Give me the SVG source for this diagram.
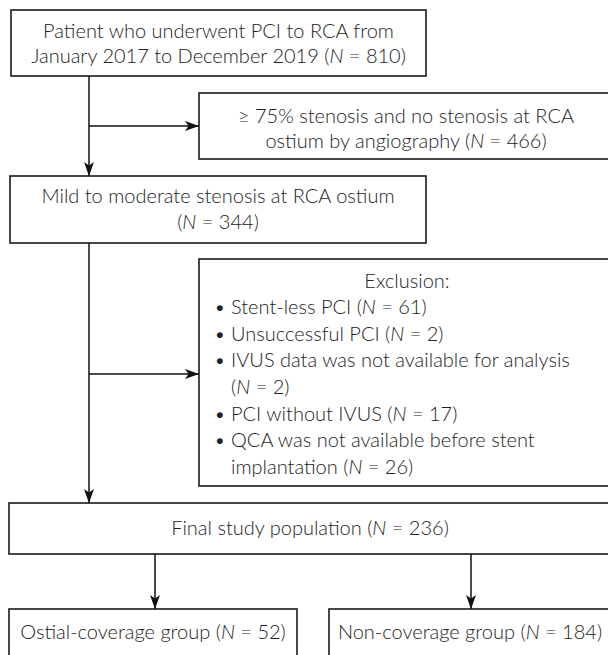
<svg xmlns="http://www.w3.org/2000/svg" width="608" height="655" viewBox="0 0 608 655">
<defs>
<style>
.box{fill:#fff;stroke:#1a1a1a;stroke-width:1.6}
.t{font-family:Lato,"Open Sans","Liberation Sans",sans-serif;font-weight:300;font-size:20px;fill:#222}
.c{text-anchor:middle}
.ln{fill:none;stroke:#111;stroke-width:1.5}
</style>
<marker id="ah" viewBox="0 0 14 10" refX="14" refY="5" markerWidth="14" markerHeight="10" markerUnits="userSpaceOnUse" orient="auto">
<path d="M0,0 L14,5 L0,10 L3.5,5 Z" fill="#111"/>
</marker>
</defs>
<rect width="608" height="655" fill="#fff"/>
<g id="connectors">
<line class="ln" x1="89" y1="76" x2="89" y2="176" marker-end="url(#ah)"/>
<line class="ln" x1="89" y1="126" x2="199" y2="126" marker-end="url(#ah)"/>
<line class="ln" x1="89" y1="243" x2="89" y2="503" marker-end="url(#ah)"/>
<line class="ln" x1="89" y1="374" x2="199" y2="374" marker-end="url(#ah)"/>
<line class="ln" x1="155" y1="554" x2="155" y2="609" marker-end="url(#ah)"/>
<line class="ln" x1="471" y1="554" x2="471" y2="609" marker-end="url(#ah)"/>
</g>
<g id="n1">
<rect class="box" x="11" y="10" width="415" height="66"/>
<text class="t c" x="218.5" y="38">Patient who underwent PCI to RCA from</text>
<text class="t c" x="218.5" y="63">January 2017 to December 2019 (<tspan font-style="italic">N</tspan> = 810)</text>
</g>
<g id="n2">
<rect class="box" x="199" y="93" width="416" height="66"/>
<text class="t c" x="406" y="123">≥ 75% stenosis and no stenosis at RCA</text>
<text class="t c" x="406" y="148">ostium by angiography (<tspan font-style="italic">N</tspan> = 466)</text>
</g>
<g id="n3">
<rect class="box" x="10" y="176" width="416" height="67"/>
<text class="t c" x="218" y="203">Mild to moderate stenosis at RCA ostium</text>
<text class="t c" x="218" y="229">(<tspan font-style="italic">N</tspan> = 344)</text>
</g>
<g id="n4">
<rect class="box" x="199" y="259" width="416" height="227"/>
<text class="t c" x="407" y="288">Exclusion:</text>
<text class="t" x="214" y="314">• Stent-less PCI (<tspan font-style="italic">N</tspan> = 61)</text>
<text class="t" x="214" y="341">• Unsuccessful PCI (<tspan font-style="italic">N</tspan> = 2)</text>
<text class="t" x="214" y="367">• IVUS data was not available for analysis</text>
<text class="t" x="231" y="394">(<tspan font-style="italic">N</tspan> = 2)</text>
<text class="t" x="214" y="421">• PCI without IVUS (<tspan font-style="italic">N</tspan> = 17)</text>
<text class="t" x="214" y="447">• QCA was not available before stent</text>
<text class="t" x="231" y="474">implantation (<tspan font-style="italic">N</tspan> = 26)</text>
</g>
<g id="n5">
<rect class="box" x="9" y="503" width="603" height="51"/>
<text class="t c" x="310" y="535">Final study population (<tspan font-style="italic">N</tspan> = 236)</text>
</g>
<g id="n6">
<rect class="box" x="9" y="609" width="288" height="60"/>
<text class="t c" x="153" y="639">Ostial-coverage group (<tspan font-style="italic">N</tspan> = 52)</text>
</g>
<g id="n7">
<rect class="box" x="329" y="609" width="283" height="60"/>
<text class="t c" x="470" y="639">Non-coverage group (<tspan font-style="italic">N</tspan> = 184)</text>
</g>
</svg>
